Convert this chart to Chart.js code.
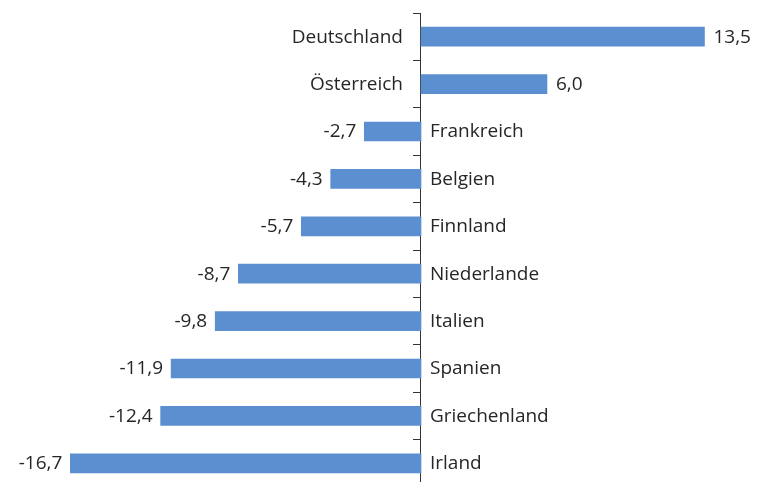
<!DOCTYPE html>
<html><head><meta charset="utf-8">
<script src="https://cdn.jsdelivr.net/npm/chart.js@4/dist/chart.umd.min.js"></script>
<style>html,body{margin:0;padding:0;overflow:hidden;background:#fff}#wrap{width:758px;height:490px}</style>
</head><body><div id="wrap"><canvas id="c" width="758" height="490"></canvas></div>
<script>
const categories = ["Deutschland","Österreich","Frankreich","Belgien","Finnland","Niederlande","Italien","Spanien","Griechenland","Irland"];
const values = [13.5, 6.0, -2.7, -4.3, -5.7, -8.7, -9.8, -11.9, -12.4, -16.7];
const valueLabels = ["13,5","6,0","-2,7","-4,3","-5,7","-8,7","-9,8","-11,9","-12,4","-16,7"];

const FONT = '19px "Open Sans"';
const TXT = '#262626';

const labelPlugin = {
  id: 'labels',
  afterDatasetsDraw(chart) {
    const ctx = chart.ctx;
    const meta = chart.getDatasetMeta(0);
    ctx.save();
    ctx.font = FONT;
    ctx.fillStyle = TXT;
    ctx.textBaseline = 'middle';
    meta.data.forEach((bar, i) => {
      const v = values[i];
      const y = bar.y + 0.5;
      const x0 = bar.base;
      if (v >= 0) {
        ctx.textAlign = 'left';
        ctx.fillText(valueLabels[i], bar.x + 9, y);
        ctx.textAlign = 'right';
        ctx.fillText(categories[i], x0 - 18, y);
      } else {
        ctx.textAlign = 'right';
        ctx.fillText(valueLabels[i], bar.x - 8, y);
        ctx.textAlign = 'left';
        ctx.fillText(categories[i], x0 + 9, y);
      }
    });
    ctx.restore();
  }
};

new Chart(document.getElementById('c'), {
  type: 'bar',
  data: { labels: categories, datasets: [{ data: values, backgroundColor: '#5b8fcf', borderWidth: 0, barThickness: 19 }] },
  options: {
    indexAxis: 'y',
    responsive: false,
    animation: false,
    devicePixelRatio: 1,
    layout: { padding: { top: 13, bottom: 3, left: 0, right: 0 } },
    plugins: { legend: { display: false }, tooltip: { enabled: false } },
    scales: {
      x: { display: false, min: -20.05, max: 16.05 },
      y: {
        position: { x: 0 },
        offset: true,
        ticks: { display: false },
        grid: { drawOnChartArea: false, offset: true, tickLength: 7, color: '#333', lineWidth: 1 },
        border: { color: '#333', width: 1 }
      }
    }
  },
  plugins: [labelPlugin]
});
</script></body></html>
